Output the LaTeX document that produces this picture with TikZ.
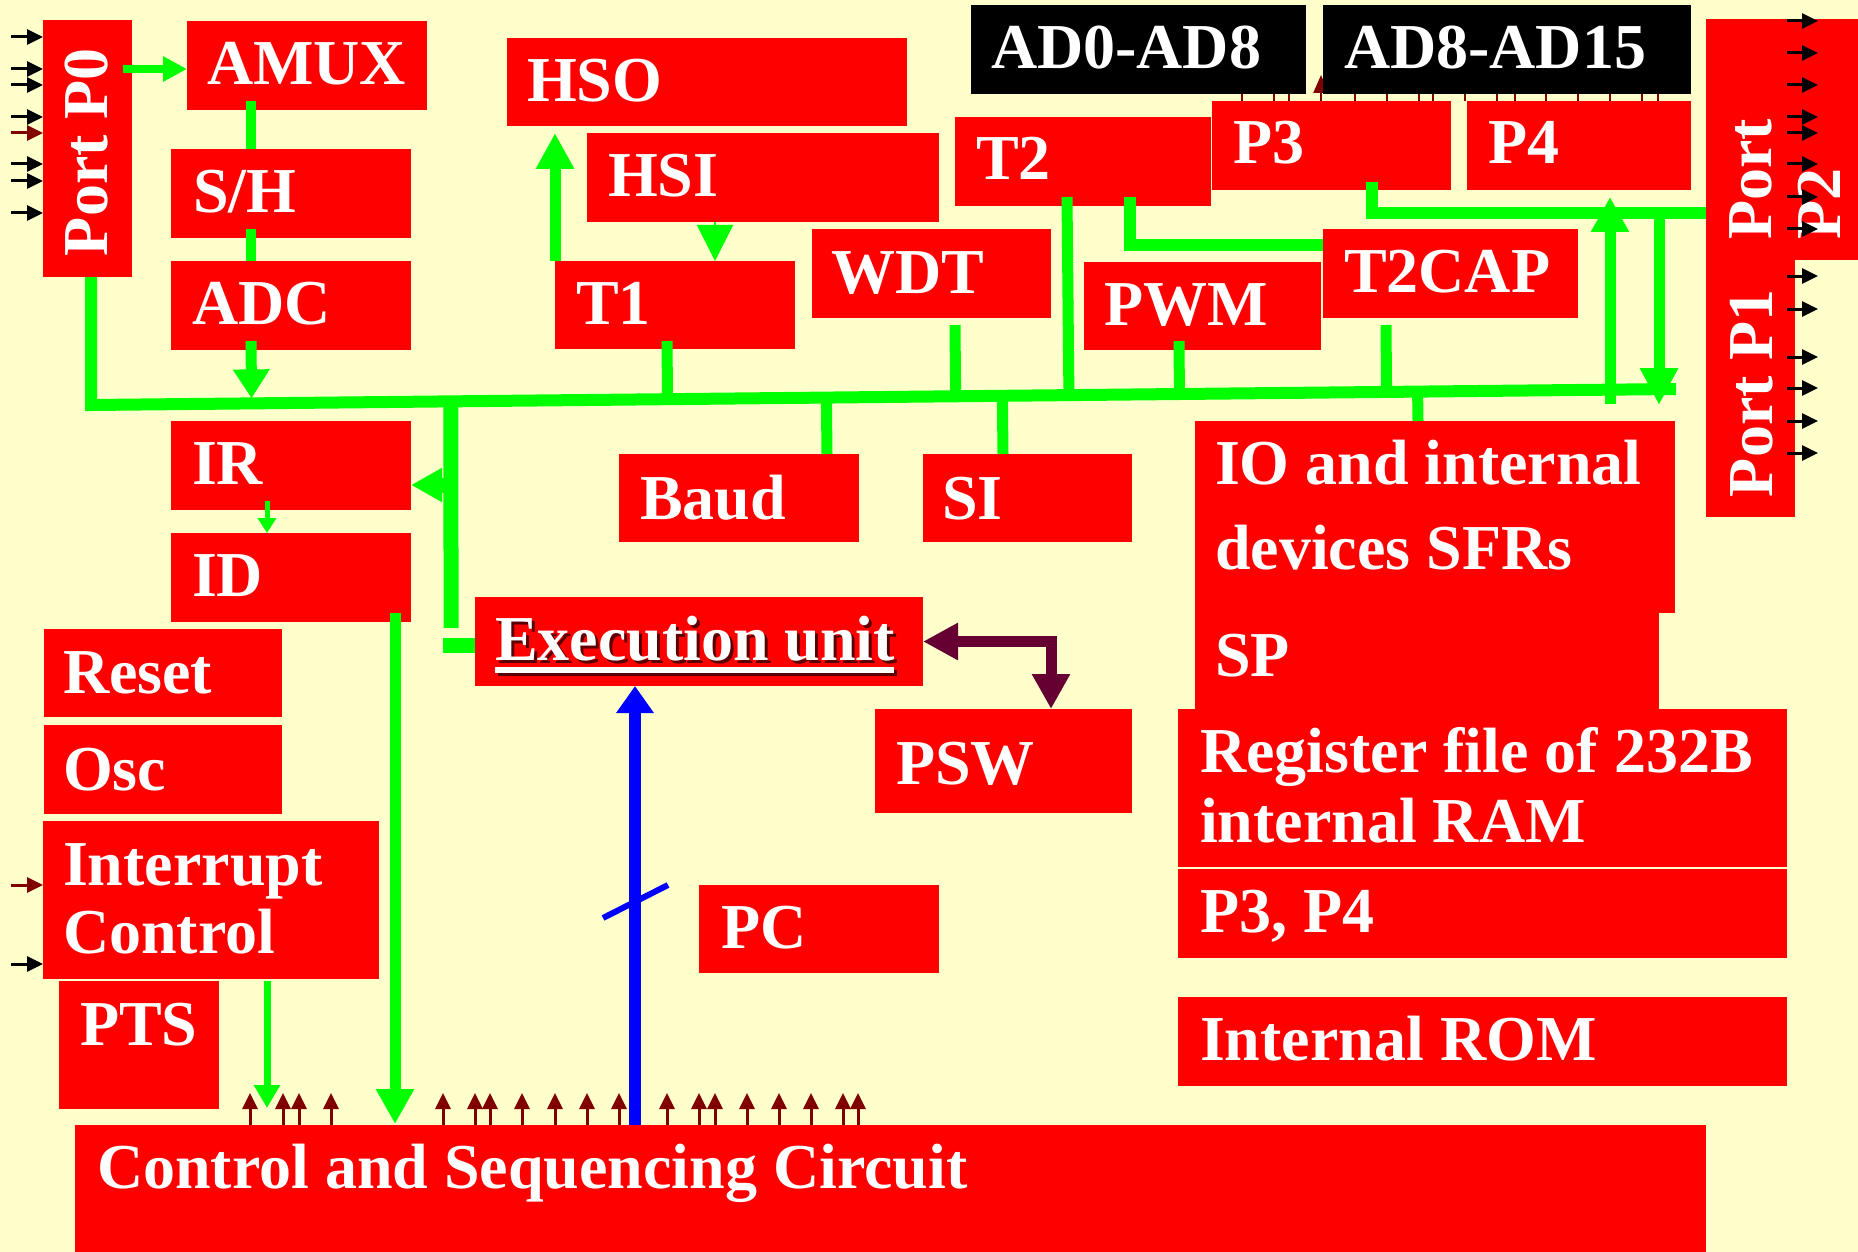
\documentclass[tikz,border=0pt]{standalone}
\usepackage{fontspec}
\setmainfont{Liberation Serif}
\usetikzlibrary{arrows.meta,calc}
\definecolor{bg}{HTML}{FFFFCC}
\definecolor{bred}{HTML}{FF0000}
\definecolor{bgreen}{HTML}{00FF00}
\definecolor{dred}{HTML}{800000}
\definecolor{dpurp}{HTML}{660033}
\definecolor{bblue}{HTML}{0000FF}
\begin{document}
\begin{tikzpicture}[x=1pt,y=-1pt,
  box/.style={fill=bred,draw=none,anchor=north west,inner sep=0pt,outer sep=0pt},
  blk/.style={box,fill=black},
  lbl/.style={anchor=base west,inner sep=0pt,outer sep=0pt,text=white,font=\fontsize{64pt}{69pt}\selectfont\bfseries},
  gline/.style={draw=bgreen,line width=11pt},
  gbus/.style={draw=bgreen,line width=12pt,line join=miter},
  karr/.style={draw=black,line width=3pt,-{Triangle[length=16pt,width=15pt]}},
  rarr/.style={karr,draw=dred},
  sarr/.style={draw=dred,line width=3pt,-{Triangle[length=16pt,width=15pt]}},
  tarr/.style={draw=dred,line width=2.5pt,-{Triangle[length=18pt,width=15pt]}}]
\useasboundingbox (0,0) rectangle (1858,1252);
\fill[bg] (0,0) rectangle (1858,1252);

% ticks under the address boxes
\foreach \x in {1242,1274,1289,1321,1355,1387,1419,1433,1465,1497,1515,1546,1578,1610,1642,1658}
  \draw[tarr] ($(1212,101)+(\x-1212,0)$) -- ++(0,-26);

% boxes
\node[box,minimum width=89pt,minimum height=257pt] (p0) at (43,20) {};
\node[box,minimum width=240pt,minimum height=89pt] (amux) at (187,21) {};
\node[box,minimum width=240pt,minimum height=89pt] (sh) at (171,149) {};
\node[box,minimum width=240pt,minimum height=89pt] (adc) at (171,261) {};
\node[box,minimum width=240pt,minimum height=89pt] (ir) at (171,421) {};
\node[box,minimum width=240pt,minimum height=89pt] (id) at (171,533) {};
\node[box,minimum width=238pt,minimum height=88pt] (reset) at (44,629) {};
\node[box,minimum width=238pt,minimum height=89pt] (osc) at (44,725) {};
\node[box,minimum width=336pt,minimum height=158pt] (intc) at (43,821) {};
\node[box,minimum width=160pt,minimum height=128pt] (pts) at (59,981) {};
\node[box,minimum width=1631pt,minimum height=130pt] (ctrl) at (75,1125) {};
\node[box,minimum width=400pt,minimum height=88pt] (hso) at (507,38) {};
\node[box,minimum width=352pt,minimum height=89pt] (hsi) at (587,133) {};
\node[box,minimum width=240pt,minimum height=88pt] (t1) at (555,261) {};
\node[box,minimum width=239pt,minimum height=89pt] (wdt) at (812,229) {};
\node[box,minimum width=256pt,minimum height=89pt] (t2) at (955,117) {};
\node[box,minimum width=239pt,minimum height=89pt] (p3) at (1212,101) {};
\node[box,minimum width=224pt,minimum height=89pt] (p4) at (1467,101) {};
\node[box,minimum width=237pt,minimum height=88pt] (pwm) at (1084,262) {};
\node[box,minimum width=255pt,minimum height=89pt] (t2cap) at (1323,229) {};
\node[blk,minimum width=335pt,minimum height=89pt] (ad0) at (971,5) {};
\node[blk,minimum width=368pt,minimum height=89pt] (ad8) at (1323,5) {};
\node[box,minimum width=89pt,minimum height=498pt] (p1) at (1706,19) {};
\node[box,minimum width=152pt,minimum height=241pt] (p2) at (1706,19) {};
\node[box,minimum width=480pt,minimum height=192pt] (io) at (1195,421) {};
\node[box,minimum width=464pt,minimum height=96pt] (sp) at (1195,613) {};
\node[box,minimum width=609pt,minimum height=158pt] (reg) at (1178,709) {};
\node[box,minimum width=609pt,minimum height=89pt] (p34) at (1178,869) {};
\node[box,minimum width=609pt,minimum height=89pt] (rom) at (1178,997) {};
\node[box,minimum width=240pt,minimum height=88pt] (baud) at (619,454) {};
\node[box,minimum width=209pt,minimum height=88pt] (si) at (923,454) {};
\node[box,minimum width=448pt,minimum height=89pt] (exec) at (475,597) {};
\node[box,minimum width=257pt,minimum height=104pt] (psw) at (875,709) {};
\node[box,minimum width=240pt,minimum height=88pt] (pc) at (699,885) {};

% texts
\node[lbl,rotate=90] (tp0) at (107,256) {Port P0};
\node[lbl] (tamux) at (207,85) {AMUX};
\node[lbl] (tsh) at (193,213) {S/H};
\node[lbl] (tadc) at (192,324) {ADC};
\node[lbl] (tir) at (192,484) {IR};
\node[lbl] (tid) at (192,596) {ID};
\node[lbl] (treset) at (63,693) {Reset};
\node[lbl] (tosc) at (63,790) {Osc};
\node[lbl] (tint1) at (63,885) {Interrupt};
\node[lbl] (tint2) at (63,953) {Control};
\node[lbl] (tpts) at (80,1045) {PTS};
\node[lbl] (tctrl) at (97,1188) {Control and Sequencing Circuit};
\node[lbl] (thso) at (527,102) {HSO};
\node[lbl] (thsi) at (608,197) {HSI};
\node[lbl] (tt1) at (576,324) {T1};
\node[lbl] (twdt) at (831,293) {WDT};
\node[lbl] (tt2) at (976,180) {T2};
\node[lbl] (tp3) at (1233,164) {P3};
\node[lbl] (tp4) at (1488,164) {P4};
\node[lbl] (tpwm) at (1104,325) {PWM};
\node[lbl] (tt2cap) at (1344,292) {T2CAP};
\node[lbl] (tad0) at (991,69) {AD0-AD8};
\node[lbl] (tad8) at (1344,69) {AD8-AD15};
\node[lbl] (tio1) at (1215,484) {IO and internal};
\node[lbl] (tio2) at (1215,569) {devices SFRs};
\node[lbl] (tsp) at (1215,676) {SP};
\node[lbl] (treg1) at (1200,772) {Register file of 232B};
\node[lbl] (treg2) at (1200,842) {internal RAM};
\node[lbl] (tp34) at (1200,932) {P3, P4};
\node[lbl] (trom) at (1200,1060) {Internal ROM};
\node[lbl] (tbaud) at (640,519) {Baud};
\node[lbl] (tsi) at (942,519) {SI};
\node[lbl] (tpsw) at (896,784) {PSW};
\node[lbl] (tpc) at (721,948) {PC};
\node[lbl,rotate=90] (tp1) at (1772,497) {Port P1};
\node[lbl,rotate=90] (tp2a) at (1771,240) {Port};
\node[lbl,rotate=90] (tp2b) at (1840,240) {P2};
% execution unit with shadow and underline
\fill[dred!70!black] (498,670) rectangle (897,676);
\node[lbl,text=dred!70!black] (texs) at (498,663) {Execution unit};
\fill[white] (495,667) rectangle (894,673);
\node[lbl] (tex) at (495,660) {Execution unit};

% bus
\coordinate (busL) at (91,405);
\coordinate (busR) at (1676,389);
\draw[gbus] (p0.south -| busL) -- (busL) -- (busR);

% drops to/from bus
\coordinate (d_t1) at ($(t1.south west)+(112,-8)$);
\coordinate (d_wdt) at ($(wdt.south west)+(143,7)$);
\coordinate (d_baud) at ($(baud.north west)+(208,0)$);
\coordinate (d_si) at ($(si.north west)+(80,0)$);
\coordinate (d_t2) at ($(t2.south west)+(112,-9)$);
\coordinate (d_pwm) at ($(pwm.south west)+(95,-9)$);
\coordinate (d_t2cap) at ($(t2cap.south west)+(63,7)$);
\coordinate (d_io) at ($(io.north west)+(223,0)$);
\foreach \c in {d_t1,d_wdt,d_baud,d_si,d_t2,d_pwm,d_t2cap,d_io}
  \draw[gline] (\c) -- ($(busL)!(\c)!(busR)$);

% ADC chain
\draw[gline,line width=10pt] ($(amux.south west)+(64,-9)$) -- ($(sh.north west)+(80,0)$);
\draw[gline,line width=10pt] ($(sh.south west)+(80,-9)$) -- ($(adc.north west)+(80,0)$);
\coordinate (d_adc) at ($(adc.south west)+(80,-9)$);
\draw[gline,-{Triangle[length=29pt,width=35pt]},shorten >=5pt] (d_adc) -- ($(busL)!(d_adc)!(busR)$);

% Port P0 -> AMUX
\draw[gline,line width=8pt,-{Triangle[length=24pt,width=24pt]}] ($(p0.north east)+(-9,49)$) -- ($(amux.north west)+(0,48)$);

% T1 -> HSO, HSI -> T1
\draw[gline,-{Triangle[length=36pt,width=36pt]}] (t1.north west) -- ($(hso.south west)+(48,7)$);
\draw[bgreen,line width=2pt,-{Triangle[length=36pt,width=36pt]}] ($(hsi.south west)+(128,0)$) -- ($(t1.north west)+(160,0)$);

% T2 -> T2CAP
\draw[gline,line width=12pt] ($(t2.south west)+(175,-9)$) |- ($(t2cap.north west)+(0,16)$);

% P3 -> Port P2, with up/down arrows
\coordinate (p2in) at ($(p2.north west)+(0,194)$);
\draw[gline,line width=12pt] ($(p3.south west)+(160,-8)$) |- (p2in);
\coordinate (upB) at (1610,404);
\draw[gline,-{Triangle[length=35pt,width=36pt]}] (upB) -- ($(p4.south west)+(143,7)$);
\coordinate (dnT) at ($(p2in)+(-47,0)$);
\draw[gline,-{Triangle[length=37pt,width=36pt]}] (dnT) -- ($(dnT)+(0,192)$);

% branch to IR and execution unit
\coordinate (brT) at ($(busL)!(451,400)!(busR)$);
\draw[gline,line width=15pt] (brT) -- ($(exec.north west)+(-24,31)$);
\draw[gline,line width=15pt] ($(exec.west)+(-32,4)$) -- ($(exec.west)+(0,4)$);
\draw[gline,line width=15pt,-{Triangle[length=31pt,width=32pt]}] ($(ir.north east)+(40,64)$) -- ($(ir.north east)+(0,64)$);
\draw[bgreen,line width=5pt,-{Triangle[length=15pt,width=18pt]}] ($(ir.south west)+(96,-9)$) -- ($(id.north west)+(96,0)$);

% to control and sequencing circuit
\draw[gline,-{Triangle[length=35pt,width=36pt]}] ($(id.south west)+(224,-9)$) -- ($(ctrl.north west)+(320,-1)$);
\draw[bgreen,line width=7pt,-{Triangle[length=23pt,width=25pt]}] ($(intc.south west)+(224,2)$) -- ($(ctrl.north west)+(192,-17)$);

% execution unit <-> PSW
\draw[dpurp,line width=11pt,{Triangle[length=35pt,width=35pt]}-{Triangle[length=35pt,width=36pt]}] (exec.east) -| ($(psw.north west)+(176,0)$);

% PC path (blue)
\draw[bblue,line width=12pt,-{Triangle[length=27pt,width=36pt]}] ($(ctrl.north west)+(560,0)$) -- ($(exec.south west)+(160,0)$);
\draw[bblue,line width=6pt] (603,918) -- (668,885);

% small control arrows
\foreach \x in {250,283,299,331,443,475,490,522,555,587,619,667,699,715,747,779,811,843,858}
  \draw[sarr] ($(ctrl.north west)+(\x-75,0)$) -- ++(0,-32);

% port P0 inputs
\foreach \y in {37,69,85,117,164,181,213}
  \draw[karr] (11,\y) -- (p0.west |- 0,\y);
\draw[rarr] (11,133) -- (p0.west |- 0,133);
% interrupt inputs
\draw[rarr] (11,885) -- (intc.west |- 0,885);
\draw[karr] (11,964) -- (intc.west |- 0,964);
% port P2 / P1 outputs
\foreach \y in {21,53,85,117,133,164,197,229,276,309,357,388,421,453}
  \draw[karr] (1787,\y) -- (1818,\y);
\end{tikzpicture}
\end{document}
